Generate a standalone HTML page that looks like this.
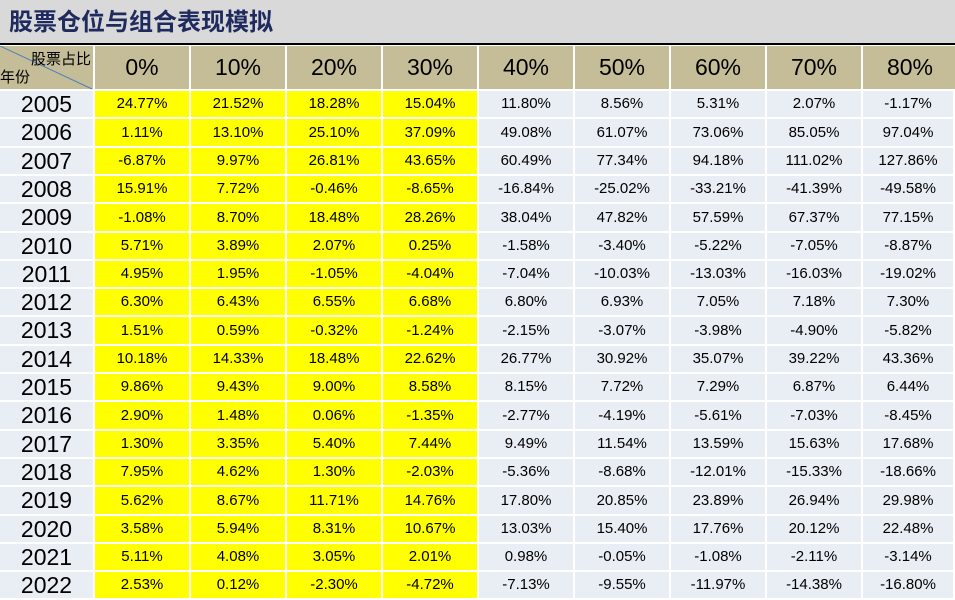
<!DOCTYPE html>
<html><head><meta charset="utf-8"><style>
body{margin:0;width:955px;height:598px;overflow:hidden;background:#fff;font-family:"Liberation Sans","Noto Sans CJK SC",sans-serif}
#title{position:absolute;left:0;top:0;width:955px;height:43px;background:#d9d9d9;color:#1f2a5e;font-weight:bold;font-size:24px;line-height:40px;padding-left:9px;box-sizing:border-box;font-family:"Noto Sans CJK SC","WenQuanYi Zen Hei",sans-serif}
#rule{position:absolute;left:0;top:43px;width:955px;height:2px;background:#000}
.c{position:absolute;box-sizing:border-box;border-right:2px solid #fff;border-bottom:2px solid #fff;text-align:center;color:#000}
.h{background:#c4bd97;font-size:23px}
.y{background:#e9edf4;font-size:23px}
.v{background:#e9edf4;font-size:15px}
.v.yl{background:#ffff00}
</style></head><body>
<div id="title">股票仓位与组合表现模拟</div>
<div id="rule"></div>
<div id="tbl"></div>
<script>
const headers=["0%","10%","20%","30%","40%","50%","60%","70%","80%"];
const years=["2005","2006","2007","2008","2009","2010","2011","2012","2013","2014","2015","2016","2017","2018","2019","2020","2021","2022"];
const values=[
["24.77%","21.52%","18.28%","15.04%","11.80%","8.56%","5.31%","2.07%","-1.17%"],
["1.11%","13.10%","25.10%","37.09%","49.08%","61.07%","73.06%","85.05%","97.04%"],
["-6.87%","9.97%","26.81%","43.65%","60.49%","77.34%","94.18%","111.02%","127.86%"],
["15.91%","7.72%","-0.46%","-8.65%","-16.84%","-25.02%","-33.21%","-41.39%","-49.58%"],
["-1.08%","8.70%","18.48%","28.26%","38.04%","47.82%","57.59%","67.37%","77.15%"],
["5.71%","3.89%","2.07%","0.25%","-1.58%","-3.40%","-5.22%","-7.05%","-8.87%"],
["4.95%","1.95%","-1.05%","-4.04%","-7.04%","-10.03%","-13.03%","-16.03%","-19.02%"],
["6.30%","6.43%","6.55%","6.68%","6.80%","6.93%","7.05%","7.18%","7.30%"],
["1.51%","0.59%","-0.32%","-1.24%","-2.15%","-3.07%","-3.98%","-4.90%","-5.82%"],
["10.18%","14.33%","18.48%","22.62%","26.77%","30.92%","35.07%","39.22%","43.36%"],
["9.86%","9.43%","9.00%","8.58%","8.15%","7.72%","7.29%","6.87%","6.44%"],
["2.90%","1.48%","0.06%","-1.35%","-2.77%","-4.19%","-5.61%","-7.03%","-8.45%"],
["1.30%","3.35%","5.40%","7.44%","9.49%","11.54%","13.59%","15.63%","17.68%"],
["7.95%","4.62%","1.30%","-2.03%","-5.36%","-8.68%","-12.01%","-15.33%","-18.66%"],
["5.62%","8.67%","11.71%","14.76%","17.80%","20.85%","23.89%","26.94%","29.98%"],
["3.58%","5.94%","8.31%","10.67%","13.03%","15.40%","17.76%","20.12%","22.48%"],
["5.11%","4.08%","3.05%","2.01%","0.98%","-0.05%","-1.08%","-2.11%","-3.14%"],
["2.53%","0.12%","-2.30%","-4.72%","-7.13%","-9.55%","-11.97%","-14.38%","-16.80%"]
];
const tbl=document.getElementById('tbl');
const X0=95,CW=96,HY=46,HH=45,RY=91,RH=28.3;
function cell(cls,x,y,w,h,txt){const d=document.createElement('div');d.className='c '+cls;d.style.left=x+'px';d.style.top=y+'px';d.style.width=w+'px';d.style.height=h+'px';d.style.lineHeight=(h-2)+'px';d.textContent=txt;tbl.appendChild(d);return d;}
const corner=cell('h',0,HY,X0,HH,'');


corner.innerHTML='<svg width="95" height="45" style="position:absolute;left:0;top:0"><line x1="0" y1="0" x2="92" y2="43" stroke="#4f81bd" stroke-width="1"/></svg><span style="position:absolute;right:2px;top:5px;font-size:15px;line-height:18px">股票占比</span><span style="position:absolute;left:0;top:23px;font-size:15px;line-height:18px">年份</span>';
headers.forEach((t,i)=>{const d=cell('h',X0+i*CW,HY,CW,HH,t);

});
years.forEach((yr,r)=>{const y=Math.round(RY+r*RH),h=Math.round(RY+(r+1)*RH)-y;
const d=cell('y',0,y,X0,h,yr);


values[r].forEach((v,i)=>{const c=cell('v'+(i<4?' yl':''),X0+i*CW,y,i==8?955-X0-8*CW:CW,h,v);

});});
</script>
</body></html>
